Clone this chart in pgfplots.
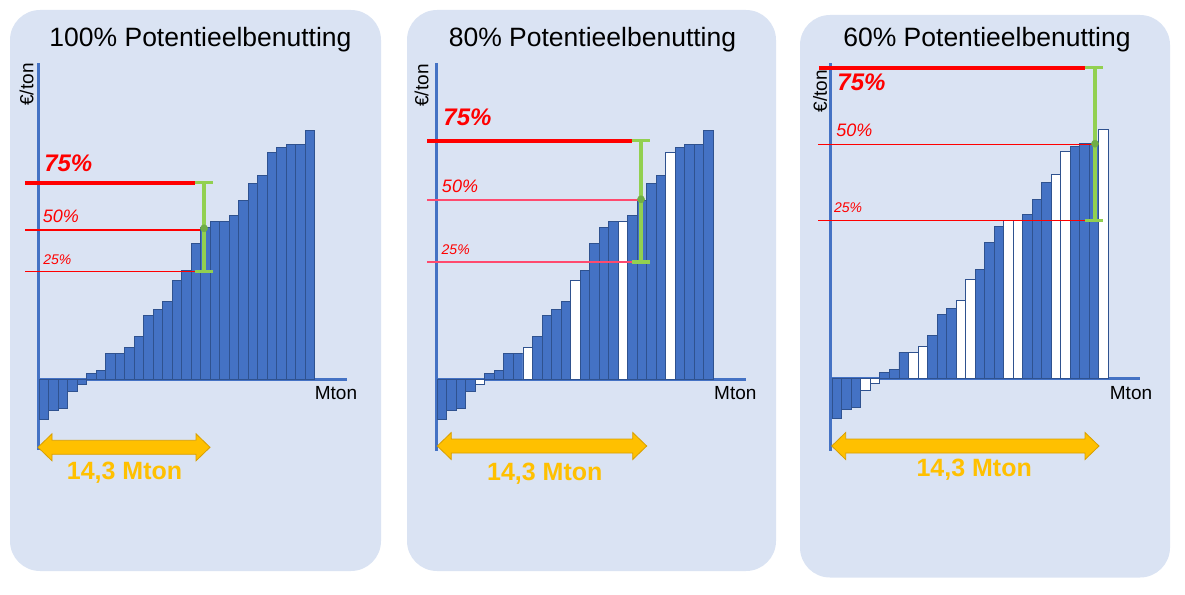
\documentclass[border=0pt]{standalone}
\usepackage{fontspec}
\setmainfont{Liberation Sans}
\usepackage{pgfplots}
\usepackage{pgfplotstable}
\pgfplotsset{compat=1.18}

\definecolor{panelbg}{HTML}{DAE3F3}
\definecolor{barblue}{HTML}{4472C4}
\definecolor{baredge}{HTML}{2F528F}
\definecolor{axisblue}{HTML}{4472C4}
\definecolor{gold}{HTML}{FFC000}
\definecolor{goldedge}{HTML}{D89F00}
\definecolor{lgreen}{HTML}{92D050}
\definecolor{dgreen}{HTML}{70AD47}
\definecolor{pinkred}{HTML}{FF4A6E}

% cost curve (bars of equal width, sorted by cost), same in every panel
\pgfplotstableread{
x y
1 -40
2 -30.7
3 -29
4 -12.3
5 -5
6 6
7 9.3
8 26.3
9 26.3
10 32
11 43.3
12 64
13 70
14 78
15 99.3
16 109.3
17 136
18 152
19 158
20 158
21 164
22 178.7
23 196
24 204
25 227.3
26 232
27 235.3
28 235.3
29 249.3
}\costAll

% 80%: every fifth bar unused
\pgfplotstableread{
x y
1 -40
2 -30.7
3 -29
4 -12.3
6 6
7 9.3
8 26.3
9 26.3
11 43.3
12 64
13 70
14 78
16 109.3
17 136
18 152
19 158
21 164
22 178.7
23 196
24 204
26 232
27 235.3
28 235.3
29 249.3
}\blueEighty
\pgfplotstableread{
x y
5 -5
10 32
15 99.3
20 158
25 227.3
}\whiteEighty

% 60%: two of every five bars unused
\pgfplotstableread{
x y
1 -40
2 -30.7
3 -29
6 6
7 9.3
8 26.3
11 43.3
12 64
13 70
16 109.3
17 136
18 152
21 164
22 178.7
23 196
26 232
27 235.3
28 235.3
}\blueSixty
\pgfplotstableread{
x y
4 -12.3
5 -5
9 26.3
10 32
14 78
15 99.3
19 158
20 158
24 204
25 227.3
29 249.3
}\whiteSixty

\pgfplotsset{
  panel/.style={scale only axis, hide axis, clip=false, anchor=south west},
  axisline/.style={draw=axisblue, line width=3pt, mark=none, forget plot},
  bluebar/.style={ybar, bar width=1, bar shift=0pt, fill=barblue, draw=baredge, line width=0.9pt},
  whitebar/.style={ybar, bar width=1, bar shift=0pt, fill=white, draw=baredge, line width=0.9pt},
  redthick/.style={draw=red, line width=4pt, mark=none},
  redthin/.style={draw=red, line width=1.2pt, mark=none},
  greenbar/.style={draw=lgreen, line width=3.5pt, mark=none},
  greendot/.style={only marks, mark=*, mark size=3.6pt, draw=dgreen, fill=dgreen},
}

\newcommand{\goldarrow}[3]{% x1, x2, yc (px)
  \filldraw[fill=gold, draw=goldedge, line width=0.8pt]
    (#1,#3) -- (#1+14,#3-13.5) -- (#1+14,#3-7) -- (#2-14,#3-7) -- (#2-14,#3-13.5)
    -- (#2,#3) -- (#2-14,#3+13.5) -- (#2-14,#3+7) -- (#1+14,#3+7) -- (#1+14,#3+13.5) -- cycle;}

\begin{document}
\begin{tikzpicture}
\useasboundingbox (0pt,0pt) rectangle (1185pt,-594pt);

\begin{scope}[x=1pt, y=-1pt]
  \fill[panelbg, rounded corners=30pt] (10,10) rectangle (381,571);
  \fill[panelbg, rounded corners=30pt] (407,10) rectangle (776,571);
  \fill[panelbg, rounded corners=30pt] (800,15) rectangle (1170,577.5);
\end{scope}

% ---------- panel 1: 100% ----------
\begin{axis}[panel, at={(38pt,-450pt)}, width=309pt, height=387pt,
  xmin=0.36, xmax=32.89, ymin=-70.7, ymax=316.3]
  \addplot[axisline] coordinates {(0.36,-70.7) (0.36,316.3)};
  \addplot[axisline] coordinates {(0.36,0) (32.89,0)};
  \addplot[bluebar] table[x=x, y=y] {\costAll};
  \addplot[redthick] coordinates {(-1.0,196.6) (16.89,196.6)};
  \addplot[redthin] coordinates {(-1.0,149.3) (17.42,149.3)};
  \addplot[redthin] coordinates {(-1.0,108) (16.89,108)};
  \addplot[greenbar] coordinates {(16.89,196.6) (18.82,196.6)};
  \addplot[greenbar] coordinates {(16.89,108) (18.82,108)};
  \addplot[greenbar] coordinates {(17.84,196.6) (17.84,108)};
  \addplot[greendot] coordinates {(17.84,151)};
\end{axis}

% ---------- panel 2: 80% ----------
\begin{axis}[panel, at={(436.7pt,-450.7pt)}, width=309.3pt, height=387.7pt,
  xmin=0.437, xmax=32.93, ymin=-71.4, ymax=316.3]
  \addplot[axisline] coordinates {(0.437,-71.4) (0.437,316.3)};
  \addplot[axisline] coordinates {(0.437,0) (32.93,0)};
  \addplot[bluebar] table[x=x, y=y] {\blueEighty};
  \addplot[whitebar] table[x=x, y=y] {\whiteEighty};
  \addplot[redthick] coordinates {(-0.55,238.6) (20.92,238.6)};
  \addplot[redthin, draw=pinkred] coordinates {(-0.55,179.3) (21.58,179.3)};
  \addplot[redthin, draw=pinkred] coordinates {(-0.55,117.3) (20.92,117.3)};
  \addplot[greenbar] coordinates {(20.92,238.6) (22.84,238.6)};
  \addplot[greenbar] coordinates {(20.92,117.3) (22.84,117.3)};
  \addplot[greenbar] coordinates {(21.9,238.6) (21.9,117.3)};
  \addplot[greendot] coordinates {(21.9,180)};
\end{axis}

% ---------- panel 3: 60% ----------
\begin{axis}[panel, at={(830.3pt,-450.7pt)}, width=309.7pt, height=387.7pt,
  xmin=0.29, xmax=32.82, ymin=-72.4, ymax=315.3]
  \addplot[axisline] coordinates {(0.29,-72.4) (0.29,315.3)};
  \addplot[axisline] coordinates {(0.29,0) (32.82,0)};
  \addplot[bluebar] table[x=x, y=y] {\blueSixty};
  \addplot[whitebar] table[x=x, y=y] {\whiteSixty};
  \addplot[redthick] coordinates {(-0.9,310.8) (27.04,310.8)};
  \addplot[redthin] coordinates {(-1.0,234) (27.75,234)};
  \addplot[redthin] coordinates {(-1.0,158) (27.04,158)};
  \addplot[greenbar] coordinates {(27.04,310.8) (28.97,310.8)};
  \addplot[greenbar] coordinates {(27.04,158) (28.97,158)};
  \addplot[greenbar] coordinates {(28.09,310.8) (28.09,158)};
  \addplot[greendot] coordinates {(28.09,234.6)};
\end{axis}

\begin{scope}[x=1pt, y=-1pt, every node/.style={inner sep=0pt, anchor=center}]
  % titles
  \node at (200.5,40) {\fontsize{26.5}{30}\selectfont 100\% Potentieelbenutting};
  \node at (592.5,40) {\fontsize{26.5}{30}\selectfont 80\% Potentieelbenutting};
  \node at (987,40) {\fontsize{26.5}{30}\selectfont 60\% Potentieelbenutting};
  % y labels
  \node[rotate=90] at (26.7,84.5) {\fontsize{19}{22}\selectfont €/ton};
  \node[rotate=90] at (421.7,85.5) {\fontsize{19}{22}\selectfont €/ton};
  \node[rotate=90] at (820,91) {\fontsize{19}{22}\selectfont €/ton};
  % x labels
  \node at (336,393) {\fontsize{19}{22}\selectfont Mton};
  \node at (735.3,393) {\fontsize{19}{22}\selectfont Mton};
  \node at (1131,393) {\fontsize{19}{22}\selectfont Mton};
  % percentile labels
  \node[text=red] at (68.3,163) {\fontsize{24}{28}\selectfont\bfseries\itshape 75\%};
  \node[text=red] at (60.8,216) {\fontsize{18}{22}\selectfont\itshape 50\%};
  \node[text=red] at (57.3,260) {\fontsize{14}{17}\selectfont\itshape 25\%};
  \node[text=red] at (467.5,117) {\fontsize{24}{28}\selectfont\bfseries\itshape 75\%};
  \node[text=red] at (460,186.7) {\fontsize{18}{22}\selectfont\itshape 50\%};
  \node[text=red] at (455.7,249.3) {\fontsize{14}{17}\selectfont\itshape 25\%};
  \node[text=red] at (861.5,82) {\fontsize{24}{28}\selectfont\bfseries\itshape 75\%};
  \node[text=red] at (854.3,130) {\fontsize{18}{22}\selectfont\itshape 50\%};
  \node[text=red] at (848,207.7) {\fontsize{14}{17}\selectfont\itshape 25\%};
  % 14,3 Mton arrows
  \goldarrow{38}{210}{447.3}
  \goldarrow{437.3}{646.7}{446}
  \goldarrow{831.7}{1099}{446}
  \node[text=gold] at (124.5,473) {\fontsize{25}{29}\selectfont\bfseries 14,3 Mton};
  \node[text=gold] at (544.8,473.3) {\fontsize{25}{29}\selectfont\bfseries 14,3 Mton};
  \node[text=gold] at (974.2,470) {\fontsize{25}{29}\selectfont\bfseries 14,3 Mton};
\end{scope}
\end{tikzpicture}
\end{document}
